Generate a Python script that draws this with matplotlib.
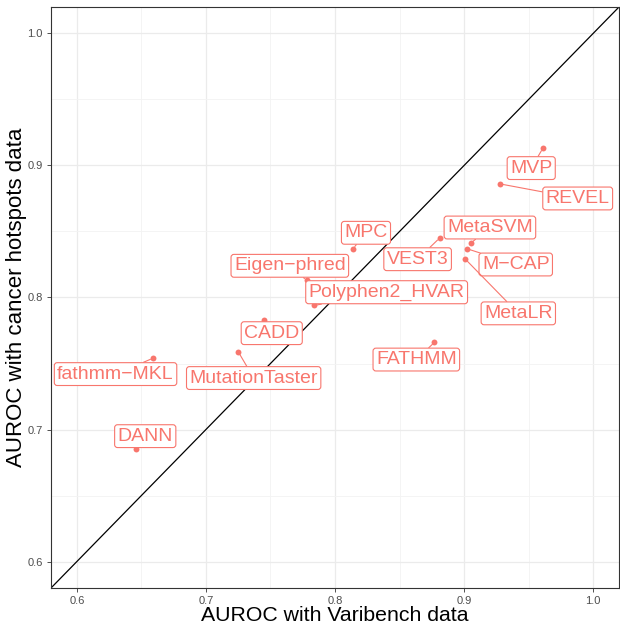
import matplotlib.pyplot as plt
import numpy as np

plt.rcParams['font.family'] = ['Liberation Sans', 'DejaVu Sans']

tools = ['MVP', 'REVEL', 'MetaSVM', 'VEST3', 'M\u2212CAP', 'MetaLR', 'MPC',
         'Eigen\u2212phred', 'Polyphen2_HVAR', 'CADD', 'MutationTaster',
         'fathmm\u2212MKL', 'DANN', 'FATHMM']
auc_varibench = [0.961, 0.928, 0.905, 0.881, 0.902, 0.901, 0.814,
                 0.778, 0.784, 0.745, 0.725, 0.659, 0.646, 0.877]
auc_hotspots = [0.913, 0.886, 0.841, 0.845, 0.837, 0.829, 0.837,
                0.813, 0.794, 0.783, 0.759, 0.754, 0.685, 0.766]

# label positions (repelled, data coords)
lab_x = [0.952, 0.988, 0.920, 0.864, 0.940, 0.942, 0.824,
         0.765, 0.840, 0.751, 0.737, 0.630, 0.653, 0.863]
lab_y = [0.898, 0.875, 0.853, 0.829, 0.825, 0.788, 0.849,
         0.824, 0.804, 0.773, 0.739, 0.742, 0.695, 0.753]

red = '#F8766D'

fig = plt.figure(figsize=(6.2, 6.28), dpi=100)
ax = fig.add_axes([51/620, 40/628, 568/620, 581/628])

ax.set_xlim(0.58, 1.02)
ax.set_ylim(0.58, 1.02)
ax.set_xticks([0.6, 0.7, 0.8, 0.9, 1.0])
ax.set_yticks([0.6, 0.7, 0.8, 0.9, 1.0])
ax.set_xticks([0.65, 0.75, 0.85, 0.95], minor=True)
ax.set_yticks([0.65, 0.75, 0.85, 0.95], minor=True)
ax.grid(True, which='major', color='#EBEBEB', lw=0.9)
ax.grid(True, which='minor', color='#F3F3F3', lw=0.6)
ax.set_axisbelow(True)
ax.tick_params(which='major', length=3, width=0.6, color='#333333',
               labelsize=8, labelcolor='#4D4D4D', pad=3)
ax.tick_params(which='minor', length=0)
for s in ax.spines.values():
    s.set_color('#333333')
    s.set_linewidth(0.8)

ax.plot([0.5, 1.1], [0.5, 1.1], color='black', lw=0.9, zorder=2)
ax.scatter(auc_varibench, auc_hotspots, s=18, color=red, zorder=3, lw=0)

for name, x, y, tx, ty in zip(tools, auc_varibench, auc_hotspots, lab_x, lab_y):
    ax.annotate(name, xy=(x, y), xytext=(tx, ty), textcoords='data',
                ha='center', va='center', fontsize=14, color=red, zorder=4,
                bbox=dict(boxstyle='round,pad=0.15,rounding_size=0.15',
                          fc='white', ec=red, lw=0.8),
                arrowprops=dict(arrowstyle='-', color=red, lw=0.8,
                                shrinkA=0, shrinkB=2))

ax.set_xlabel('AUROC with Varibench data', fontsize=15.3, labelpad=0)
ax.set_ylabel('AUROC with cancer hotspots data', fontsize=16, labelpad=0.5)

fig.savefig('out.png', dpi=100)
